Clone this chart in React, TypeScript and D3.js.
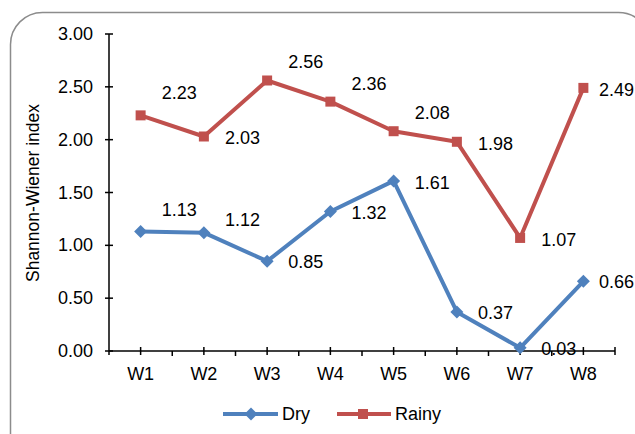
import React from "react";
import * as d3 from "d3";

const categories = ["W1", "W2", "W3", "W4", "W5", "W6", "W7", "W8"];
const dryValues = [1.13, 1.12, 0.85, 1.32, 1.61, 0.37, 0.03, 0.66];
const rainyValues = [2.23, 2.03, 2.56, 2.36, 2.08, 1.98, 1.07, 2.49];
const yTicks = [0, 0.5, 1, 1.5, 2, 2.5, 3];
const seriesNames = ["Dry", "Rainy"];

// label vertical nudges (styling only)
const dryLabelDy = [-22, -13, 1, 1, 2, 1, 1, 1];
const rainyLabelDy = [-22, 2, -18, -18, -18, 2, 2, 2];

const W = 635;
const H = 434;
const FONT = "Arial, 'Liberation Sans', sans-serif";
const BLUE = "#4F81BD";
const RED = "#C0504D";
const FS = 18;

export default function App() {
  const x = d3.scaleBand<string>().domain(categories).range([109, 615]).padding(0);
  const y = d3.scaleLinear().domain([0, 3]).range([351, 34]);
  const cx = (c: string) => (x(c) as number) + x.bandwidth() / 2;

  const line = d3
    .line<number>()
    .x((_, i) => cx(categories[i]))
    .y((v) => y(v));

  const diamond = (px: number, py: number, r: number) =>
    `M${px},${py - r}L${px + r},${py}L${px},${py + r}L${px - r},${py}Z`;

  const labelX = (c: string) => Math.min(cx(c) + 21, 599);

  const boundaries = d3.range(1, categories.length).map((i) => 109 + i * x.bandwidth());

  return (
    <svg
      width={W}
      height={H}
      style={{ position: "absolute", left: 0, top: 0, background: "#fff" }}
      fontFamily={FONT}
    >
      <rect x={10.5} y={12.5} width={640} height={460} rx={32} ry={32} fill="#fff" stroke="#8c8c8c" strokeWidth={1.5} />

      {/* y axis */}
      <line x1={109} x2={109} y1={y(3)} y2={y(0)} stroke="#000" strokeWidth={1.5} />
      {yTicks.map((t) => (
        <g key={t}>
          <line x1={105} x2={113} y1={y(t)} y2={y(t)} stroke="#000" strokeWidth={1.5} />
          <text x={93} y={y(t)} textAnchor="end" dominantBaseline="central" fontSize={FS} fill="#000">
            {t.toFixed(2)}
          </text>
        </g>
      ))}
      <text
        transform={`translate(33,193) rotate(-90)`}
        textAnchor="middle"
        dominantBaseline="central"
        fontSize={17.5}
        fill="#000"
      >
        Shannon-Wiener index
      </text>

      {/* x axis */}
      <line x1={109} x2={615} y1={y(0)} y2={y(0)} stroke="#000" strokeWidth={1.5} />
      {categories.map((c) => (
        <g key={c}>
          <line x1={cx(c)} x2={cx(c)} y1={y(0) - 4} y2={y(0) + 4} stroke="#000" strokeWidth={1.5} />
          <text x={cx(c)} y={374} textAnchor="middle" dominantBaseline="central" fontSize={FS} fill="#000">
            {c}
          </text>
        </g>
      ))}
      {boundaries.map((b) => (
        <line key={b} x1={b} x2={b} y1={y(0)} y2={y(0) + 5} stroke="#000" strokeWidth={1.5} />
      ))}
      <line x1={615} x2={615} y1={y(0) - 4} y2={y(0) + 4} stroke="#000" strokeWidth={1.5} />
      <line x1={109} x2={109} y1={y(0)} y2={y(0) + 4} stroke="#000" strokeWidth={1.5} />

      {/* Rainy series */}
      <path d={line(rainyValues) || ""} fill="none" stroke={RED} strokeWidth={4} strokeLinejoin="round" />
      {rainyValues.map((v, i) => (
        <rect key={i} x={cx(categories[i]) - 5} y={y(v) - 5} width={10} height={10} fill={RED} />
      ))}

      {/* Dry series */}
      <path d={line(dryValues) || ""} fill="none" stroke={BLUE} strokeWidth={4} strokeLinejoin="round" />
      {dryValues.map((v, i) => (
        <path key={i} d={diamond(cx(categories[i]), y(v), 6.5)} fill={BLUE} />
      ))}

      {/* data labels */}
      {rainyValues.map((v, i) => (
        <text
          key={"r" + i}
          x={labelX(categories[i])}
          y={y(v) + rainyLabelDy[i]}
          dominantBaseline="central"
          fontSize={FS}
          fill="#000"
        >
          {v.toFixed(2)}
        </text>
      ))}
      {dryValues.map((v, i) => (
        <text
          key={"d" + i}
          x={labelX(categories[i])}
          y={y(v) + dryLabelDy[i]}
          dominantBaseline="central"
          fontSize={FS}
          fill="#000"
        >
          {v.toFixed(2)}
        </text>
      ))}

      {/* legend */}
      <g>
        <line x1={223} x2={278} y1={414} y2={414} stroke={BLUE} strokeWidth={4} />
        <path d={diamond(251, 414, 6.5)} fill={BLUE} />
        <text x={282} y={414} dominantBaseline="central" fontSize={FS} fill="#000">
          {seriesNames[0]}
        </text>
        <line x1={337} x2={391} y1={414} y2={414} stroke={RED} strokeWidth={4} />
        <rect x={358} y={409} width={10} height={10} fill={RED} />
        <text x={395} y={414} dominantBaseline="central" fontSize={FS} fill="#000">
          {seriesNames[1]}
        </text>
      </g>
    </svg>
  );
}
